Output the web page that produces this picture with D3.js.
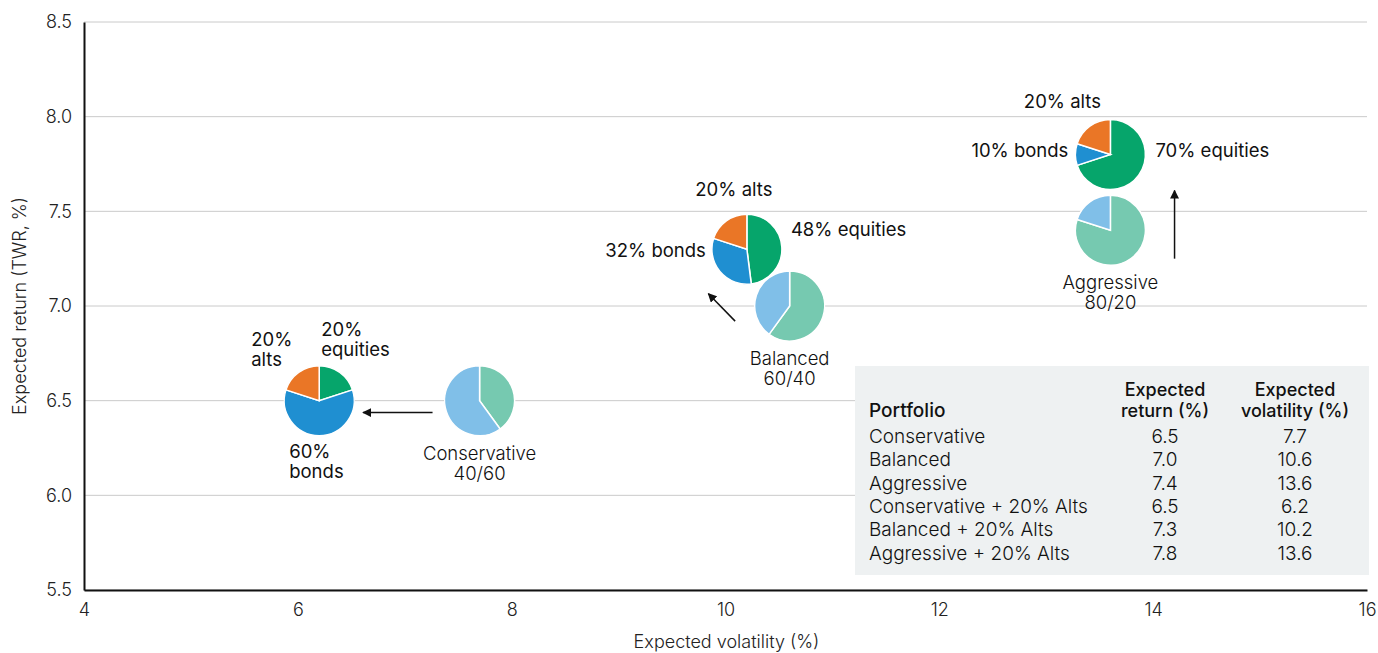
<!DOCTYPE html>
<html>
<head>
<meta charset="utf-8">
<script src="https://cdn.jsdelivr.net/npm/d3@7"></script>
<style>
  html, body { margin: 0; padding: 0; background: #fff; }
  svg { display: block; font-family: Inter, "Noto Sans", sans-serif; }
</style>
</head>
<body>
<div id="chart"></div>
<script>
// Portfolio data
const portfolios = ["Conservative", "Balanced", "Aggressive",
  "Conservative + 20% Alts", "Balanced + 20% Alts", "Aggressive + 20% Alts"];
const expReturn = [6.5, 7.0, 7.4, 6.5, 7.3, 7.8];
const expVolatility = [7.7, 10.6, 13.6, 6.2, 10.2, 13.6];
const equities = [40, 60, 80, 20, 48, 70];
const bonds = [60, 40, 20, 60, 32, 10];
const alts = [0, 0, 0, 20, 20, 20];
const mixLabels = ["40/60", "60/40", "80/20"];

const xTicks = [4, 6, 8, 10, 12, 14, 16];
const yTicks = [5.5, 6.0, 6.5, 7.0, 7.5, 8.0, 8.5];

// arrows from old to new portfolio, in data units [vol, ret] -> [vol, ret]
const arrows = [
  [[7.26, 6.437], [6.61, 6.437]],
  [[10.09, 6.92], [9.84, 7.065]],
  [[14.2, 7.25], [14.2, 7.61]]
];

const width = 1378, height = 653;
const margin = {left: 84, right: 11, top: 22, bottom: 63};

const x = d3.scaleLinear().domain([4, 16]).range([margin.left, width - margin.right]);
const y = d3.scaleLinear().domain([5.5, 8.5]).range([height - margin.bottom, margin.top]);

const svg = d3.select("#chart").append("svg")
  .attr("width", width).attr("height", height);

const colors = {
  equities: "#06a56b", bonds: "#1f8fd1", alts: "#ea7626",
  oldEquities: "#76c9b0", oldBonds: "#80bfe8"
};
const fs = 18.5;

// gridlines
svg.append("g").selectAll("line").data(yTicks).join("line")
  .attr("x1", x(4)).attr("x2", x(16))
  .attr("y1", d => y(d)).attr("y2", d => y(d))
  .attr("stroke", "#cacaca").attr("stroke-width", 1);

// table background (drawn over grid)
const table = svg.append("g");
table.append("rect")
  .attr("x", 855).attr("y", 366).attr("width", 514).attr("height", 209)
  .attr("fill", "#eef1f2");

// axes
const xAxis = svg.append("g")
  .attr("transform", `translate(0,${y(5.5)})`)
  .call(d3.axisBottom(x).tickValues(xTicks).tickSize(0).tickPadding(13).tickFormat(d3.format("d")));
const yAxis = svg.append("g")
  .attr("transform", `translate(${x(4)},0)`)
  .call(d3.axisLeft(y).tickValues(yTicks).tickSize(0).tickPadding(12).tickFormat(d3.format(".1f")));
[xAxis, yAxis].forEach(a => {
  a.select(".domain").attr("stroke", "#111").attr("stroke-width", 2);
  a.selectAll("text").attr("font-size", 18).attr("fill", "#222")
    .attr("font-family", "Inter, sans-serif").attr("font-weight", 300);
});

svg.append("text")
  .attr("x", (x(4) + x(16)) / 2 + 1).attr("y", 648)
  .attr("text-anchor", "middle").attr("font-size", 18).attr("font-weight", 300).attr("fill", "#222")
  .text("Expected volatility (%)");
svg.append("text")
  .attr("transform", `translate(26,${(y(5.5) + y(8.5)) / 2}) rotate(-90)`)
  .attr("text-anchor", "middle").attr("font-size", 18).attr("font-weight", 300).attr("fill", "#222")
  .text("Expected return (TWR, %)");

// pies
const radius = 35;
const pie = d3.pie().sort(null).value(d => d.v);
const arc = d3.arc().innerRadius(0).outerRadius(radius);

portfolios.forEach((name, i) => {
  const isNew = alts[i] > 0;
  const slices = isNew
    ? [{v: equities[i], c: colors.equities}, {v: bonds[i], c: colors.bonds}, {v: alts[i], c: colors.alts}]
    : [{v: equities[i], c: colors.oldEquities}, {v: bonds[i], c: colors.oldBonds}];
  svg.append("g")
    .attr("transform", `translate(${x(expVolatility[i])},${y(expReturn[i])})`)
    .selectAll("path").data(pie(slices)).join("path")
    .attr("d", arc).attr("fill", d => d.data.c)
    .attr("stroke", "#fff").attr("stroke-width", 1.5);
});

// arrows
svg.append("defs").append("marker")
  .attr("id", "head").attr("viewBox", "0 0 10 10").attr("refX", 9).attr("refY", 5)
  .attr("markerWidth", 9).attr("markerHeight", 9).attr("markerUnits", "userSpaceOnUse")
  .attr("orient", "auto")
  .append("path").attr("d", "M0,0L10,5L0,10Z").attr("fill", "#111");
svg.append("g").selectAll("line").data(arrows).join("line")
  .attr("x1", d => x(d[0][0])).attr("y1", d => y(d[0][1]))
  .attr("x2", d => x(d[1][0])).attr("y2", d => y(d[1][1]))
  .attr("stroke", "#111").attr("stroke-width", 1.5).attr("marker-end", "url(#head)");

// annotation labels (offsets relative to each pie centre)
function label(i, dx, dy, lines, anchor) {
  const t = svg.append("text")
    .attr("x", x(expVolatility[i]) + dx).attr("y", y(expReturn[i]) + dy)
    .attr("text-anchor", anchor).attr("font-size", fs).attr("fill", "#111");
  lines.forEach((l, k) => {
    t.append("tspan").attr("x", x(expVolatility[i]) + dx).attr("dy", k ? 20 : 0).text(l);
  });
  return t;
}

// old portfolios
[0, 1, 2].forEach(i => {
  label(i, 0, 59, [portfolios[i], mixLabels[i]], "middle").attr("font-weight", 300);
});

// new portfolios
label(3, -68, -55, [alts[3] + "%", "alts"], "start");
label(3, 2, -65, [equities[3] + "%", "equities"], "start");
label(3, -30, 57, [bonds[3] + "%", "bonds"], "start");

label(4, -13, -53, [alts[4] + "% alts"], "middle");
label(4, 44, -13, [equities[4] + "% equities"], "start");
label(4, -41, 8, [bonds[4] + "% bonds"], "end");

label(5, -48, -47, [alts[5] + "% alts"], "middle");
label(5, -42, 2, [bonds[5] + "% bonds"], "end");
label(5, 45, 2, [equities[5] + "% equities"], "start");

// table
const colX = [869, 1165, 1295];
table.append("text").attr("x", colX[0]).attr("y", 417)
  .attr("font-size", 19).attr("font-weight", 500).attr("fill", "#111").text("Portfolio");
[["Expected", "return (%)"], ["Expected", "volatility (%)"]].forEach((h, k) => {
  h.forEach((l, j) => table.append("text")
    .attr("x", colX[k + 1]).attr("y", 396 + j * 21)
    .attr("text-anchor", "middle").attr("font-size", 18).attr("font-weight", 500).attr("fill", "#111")
    .text(l));
});
portfolios.forEach((name, i) => {
  const by = 443 + i * 23.3;
  const row = table.append("g").attr("font-size", 19).attr("font-weight", 300).attr("fill", "#111");
  row.append("text").attr("x", colX[0]).attr("y", by).text(name);
  row.append("text").attr("x", colX[1]).attr("y", by).attr("text-anchor", "middle").text(expReturn[i].toFixed(1));
  row.append("text").attr("x", colX[2]).attr("y", by).attr("text-anchor", "middle").text(expVolatility[i].toFixed(1));
});
</script>
</body>
</html>
